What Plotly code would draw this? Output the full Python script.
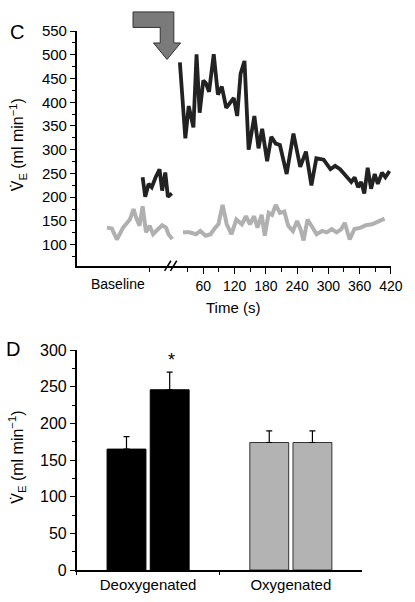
import plotly.graph_objects as go

W, H = 415, 602

# ---------------- Panel C data ----------------
deoxy_base_t = [-56.5, -51.5, -45, -39, -31.5, -24, -19, -13, -8, -0.5]
deoxy_base_v = [242, 201, 228, 221, 242, 259, 214, 252, 201, 208]

deoxy_t = [15, 25.5, 32, 41, 47, 53, 60, 65, 71, 80, 88, 95.5, 104, 111, 118.5, 125, 131.5,
           139, 147, 158, 166, 173, 182.5, 190.5, 199, 207, 220, 233, 246, 257, 267.5, 277,
           291, 304, 313, 322.5, 335, 344, 350.5, 357, 363, 369, 375.5, 382, 389, 395, 403,
           409.5, 417.5]
deoxy_v = [484, 324, 392, 347, 501, 378, 446, 440, 422, 501, 416, 433, 388, 398, 409, 371, 460,
           487, 300, 371, 303, 344, 276, 327, 313, 310, 249, 334, 264, 296, 225, 282,
           279, 259, 266, 259, 242, 232, 242, 221, 232, 208, 262, 218, 249, 228, 252,
           242, 255]

oxy_base_t = [-125, -115.5, -106, -94, -81, -74, -69, -62.5, -56.5, -50, -43, -36.5, -28.5,
              -19, -11.5, -7, 0.5]
oxy_base_v = [136, 134, 111, 136, 153, 175, 157, 140, 181, 126, 140, 122, 131, 141, 136, 122, 112]

oxy_t = [21, 33.5, 46, 54, 64.5, 74, 83, 89, 97, 105, 114, 123.5, 134, 142, 149.5, 157.5, 164,
         172, 178, 185.5, 192, 199, 207, 215.5, 223, 232, 240, 246.5, 252.5, 260, 267.5,
         277.5, 288, 297, 306.5, 316, 325, 331.5, 341, 350, 362.5, 372, 384, 396.5, 408]
oxy_v = [126, 126, 122, 129, 119, 122, 136, 143, 184, 143, 122, 153, 143, 160, 143, 160, 136,
         163, 119, 167, 163, 184, 167, 170, 140, 129, 150, 133, 109, 153, 140,
         122, 129, 126, 133, 126, 133, 146, 111, 133, 136, 141, 143, 150, 155]

time_ticks = [60, 120, 180, 240, 300, 360, 420]
time_minor = [-43, 30, 90, 150, 210, 270, 330, 390]
baseline_label = "Baseline"
baseline_label_pos = -104
ve_ticks_c = [100, 150, 200, 250, 300, 350, 400, 450, 500, 550]
ve_minor_c = [75, 125, 175, 225, 275, 325, 375, 425, 475, 525]

# ---------------- Panel D data ----------------
groups = ["Deoxygenated", "Oxygenated"]
before_mean = [165, 174]
before_err = [17, 16]
after_mean = [246, 174]
after_err = [24, 16]
group_fill = ["#000000", "#b3b3b3"]
group_edge = ["#000000", "#333333"]
ve_ticks_d = [0, 50, 100, 150, 200, 250, 300]
ve_minor_d = [25, 75, 125, 175, 225, 275]

FONT = "Arial, Liberation Sans, sans-serif"
BLACK_LINE = "#222222"
GREY_LINE = "#b0b0b0"


def px(x):
    return x / W


def py(y):
    return 1 - y / H


fig = go.Figure()

for t, v, c, w in [(oxy_base_t, oxy_base_v, GREY_LINE, 4),
                   (oxy_t, oxy_v, GREY_LINE, 4),
                   (deoxy_base_t, deoxy_base_v, BLACK_LINE, 3.8),
                   (deoxy_t, deoxy_v, BLACK_LINE, 3.8)]:
    fig.add_trace(go.Scatter(x=t, y=v, mode="lines", line=dict(color=c, width=w),
                             xaxis="x", yaxis="y", showlegend=False, hoverinfo="skip"))

for means, errs in [(before_mean, before_err), (after_mean, after_err)]:
    fig.add_trace(go.Bar(x=groups, y=means,
                         error_y=dict(type="data", array=errs, arrayminus=[0, 0], symmetric=False,
                                      color="black", thickness=1.2, width=3),
                         marker=dict(color=group_fill, line=dict(color=group_edge, width=1)),
                         xaxis="x2", yaxis="y2", showlegend=False))

axis_common = dict(showgrid=False, zeroline=False, showline=True, linecolor="black", linewidth=1.5,
                   ticks="outside", tickcolor="black", tickwidth=1.2,
                   tickfont=dict(family=FONT, size=15, color="black"))

fig.update_layout(
    width=W, height=H, margin=dict(l=0, r=0, t=0, b=0),
    paper_bgcolor="white", plot_bgcolor="white",
    barmode="group", bargap=0.395, bargroupgap=0.1,
    font=dict(family=FONT, color="black"),
    xaxis=dict(axis_common, domain=[px(79), px(402.5)], range=[-183, 420], anchor="y",
               tickmode="array", tickvals=time_ticks,
               ticktext=[str(v) for v in time_ticks], ticklen=6,
               tickfont=dict(family=FONT, size=14, color="black"),
               minor=dict(tickmode="array", tickvals=time_minor, ticks="outside", ticklen=4,
                          tickcolor="black", tickwidth=1.2)),
    yaxis=dict(axis_common, domain=[py(265), py(22.7)], range=[55, 550], anchor="x",
               tickmode="array", tickvals=ve_ticks_c, ticklen=5,
               minor=dict(tickmode="array", tickvals=ve_minor_c, ticks="outside", ticklen=3,
                          tickcolor="black", tickwidth=1.2)),
    xaxis2=dict(axis_common, domain=[px(79), px(373)], range=[-0.5, 1.5], anchor="y2",
                type="category", tickson="boundaries", ticklen=3),
    yaxis2=dict(axis_common, domain=[py(578.3), py(351.7)], range=[0, 300], anchor="x2",
                tickmode="array", tickvals=ve_ticks_d, ticklen=5,
                tickfont=dict(family=FONT, size=16, color="black"),
                minor=dict(tickmode="array", tickvals=ve_minor_d, ticks="outside", ticklen=3,
                           tickcolor="black", tickwidth=1.2)),
)

ytitle = "V\u0307<sub>E</sub> (ml min<sup>\u22121</sup>)"
common_anno = dict(showarrow=False, xanchor="center", yanchor="middle")
annos = [
    dict(common_anno, text="C", x=px(17), y=py(24), xref="paper", yref="paper",
         font=dict(size=20, family=FONT)),
    dict(common_anno, text="D", x=px(13), y=py(350), xref="paper", yref="paper",
         font=dict(size=20, family=FONT)),
    dict(common_anno, text=ytitle, x=px(18), y=py(140), xref="paper", yref="paper",
         textangle=-90, font=dict(size=16, family=FONT)),
    dict(common_anno, text=ytitle, x=px(18), y=py(462), xref="paper", yref="paper",
         textangle=-90, font=dict(size=16, family=FONT)),
    dict(common_anno, text="Time (s)", x=px(240), y=py(308), xref="paper", yref="paper",
         font=dict(size=15, family=FONT)),
    dict(common_anno, text=baseline_label, x=baseline_label_pos, xref="x", y=py(283), yref="paper",
         font=dict(size=14, family=FONT)),
    dict(common_anno, text="*", x=0.166, xref="x2", y=287, yref="y2",
         font=dict(size=18, family=FONT)),
]
fig.update_layout(annotations=annos)

# arrow (decoration)
arrow_pts = [(137, 3), (179, 3), (179, 35), (186, 35), (172, 52), (158, 35), (165, 35), (165, 19), (137, 19)]
path = "M " + " L ".join(f"{px(x):.5f},{py(y):.5f}" for x, y in arrow_pts) + " Z"
shapes = [dict(type="path", path=path, xref="paper", yref="paper",
               fillcolor="#7a7a7a", line=dict(color="#333333", width=1))]
# axis break marks
for x0 in (169.5, 175.5):
    shapes.append(dict(type="line", xref="paper", yref="paper",
                       x0=px(x0), y0=py(270), x1=px(x0 + 6.5), y1=py(259.5),
                       line=dict(color="black", width=1.5)))
fig.update_layout(shapes=shapes)

fig.write_html("out.html", config={"displayModeBar": False},
               post_script="document.body.style.margin='0';")
